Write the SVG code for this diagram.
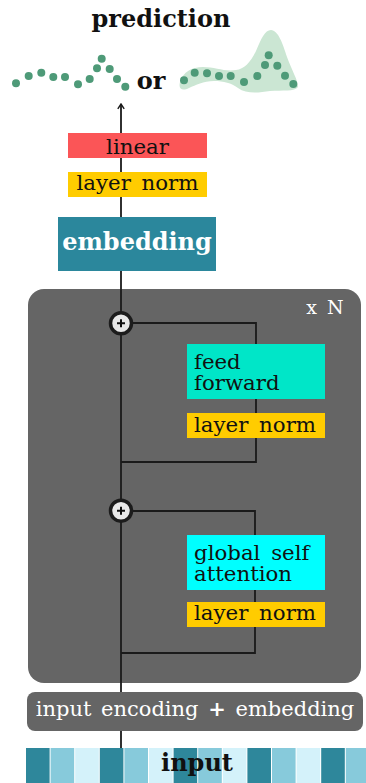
<svg xmlns="http://www.w3.org/2000/svg" width="366" height="783" viewBox="0 0 366 783">
  <defs>
    <style>
      .lbl { font-family: "DejaVu Serif", "Liberation Serif", serif; font-size: 21.3px; fill: #111; word-spacing: 4px; }
      .bold { font-family: "DejaVu Serif", "Liberation Serif", serif; font-weight: bold; font-size: 24px; }
      .wire { fill: none; stroke: #1a1a1a; stroke-width: 1.8; }
      .dot { fill: #4e9a78; }
      .norm { fill: #ffcc00; }
      .plus { fill: #e9e9e9; stroke: #1c1c1c; stroke-width: 3.5; }
      .c0 { fill: #2e879b; }
      .c1 { fill: #87cadb; }
      .c2 { fill: #d4f2fa; }
    </style>
    <marker id="arrow" viewBox="0 0 10 10" refX="9" refY="5" markerWidth="8" markerHeight="8" orient="auto" markerUnits="userSpaceOnUse">
      <path d="M3,1 L9,5 L3,9" fill="none" stroke="#1a1a1a" stroke-width="1.8"/>
    </marker>
  </defs>

  <rect width="366" height="783" fill="#ffffff"/>

  <!-- repeated block background -->
  <g id="block">
    <rect x="28" y="289" width="333" height="394" rx="16" fill="#656565"/>
    <text x="325" y="314" text-anchor="middle" style="font-family: 'DejaVu Serif', serif; font-size: 19px; fill: #ffffff; word-spacing: 4px;">x N</text>
  </g>

  <!-- connectors -->
  <g id="connectors">
    <line class="wire" x1="121" y1="748" x2="121" y2="104" marker-end="url(#arrow)"/>
    <path class="wire" d="M121,323 H256 V462 H121"/>
    <path class="wire" d="M121,511 H255 V653 H121"/>
  </g>

  <!-- prediction output -->
  <g id="prediction">
    <text class="bold" x="161" y="27" text-anchor="middle" fill="#111">prediction</text>
    <text class="bold" x="151" y="89" text-anchor="middle" fill="#111">or</text>
    <g id="points">
      <circle class="dot" cx="16" cy="83.3" r="4"/>
      <circle class="dot" cx="28.7" cy="76" r="4"/>
      <circle class="dot" cx="41.3" cy="72.7" r="4"/>
      <circle class="dot" cx="53.3" cy="77" r="4"/>
      <circle class="dot" cx="65" cy="77" r="4"/>
      <circle class="dot" cx="78" cy="84.3" r="4"/>
      <circle class="dot" cx="89.7" cy="79" r="4"/>
      <circle class="dot" cx="97" cy="68.3" r="4"/>
      <circle class="dot" cx="101.7" cy="58.7" r="4"/>
      <circle class="dot" cx="109.7" cy="69" r="4"/>
      <circle class="dot" cx="117" cy="79" r="4"/>
      <circle class="dot" cx="125.3" cy="86.7" r="4"/>
    </g>
    <g id="distribution">
      <path d="M180,82 C183,72 192,67 203,67 C215,67 225,72 236,70 C244,69 250,63 256,51 C261,39 265,30 271,30 C278,30 283,44 287,57 C292,71 298,80 298,87 C295,92 282,90 270,91 C258,93 246,94 238,88 C231,83 224,81 214,81 C203,81 196,85 189,88 C183,91 178,90 180,82 Z" fill="#cbe6d3"/>
      <circle class="dot" cx="184" cy="80.3" r="4"/>
      <circle class="dot" cx="194.7" cy="72.7" r="4"/>
      <circle class="dot" cx="207" cy="73.3" r="4"/>
      <circle class="dot" cx="219" cy="76" r="4"/>
      <circle class="dot" cx="230.7" cy="76" r="4"/>
      <circle class="dot" cx="244" cy="82" r="4"/>
      <circle class="dot" cx="257.3" cy="76" r="4"/>
      <circle class="dot" cx="265" cy="65" r="4"/>
      <circle class="dot" cx="268.7" cy="55.3" r="4"/>
      <circle class="dot" cx="277.3" cy="65.7" r="4"/>
      <circle class="dot" cx="285" cy="75.7" r="4"/>
      <circle class="dot" cx="293.3" cy="84" r="4"/>
    </g>
  </g>

  <!-- output head -->
  <g id="linear">
    <rect x="68" y="133" width="139" height="25" fill="#fb5557"/>
    <text class="lbl" x="137.5" y="154" text-anchor="middle">linear</text>
  </g>
  <g id="norm-out">
    <rect class="norm" x="68" y="172" width="139" height="25"/>
    <text class="lbl" x="137.5" y="190" text-anchor="middle">layer norm</text>
  </g>
  <g id="embedding-out">
    <rect x="58" y="217" width="158" height="54" fill="#2b879c"/>
    <text class="bold" x="137" y="250" text-anchor="middle" fill="#ffffff">embedding</text>
  </g>

  <!-- feed-forward sublayer -->
  <g id="add-ff">
    <circle class="plus" cx="121" cy="323.3" r="10.5"/>
    <path d="M117,323.3 H125 M121,319.3 V327.3" stroke="#111" stroke-width="2"/>
  </g>
  <g id="feed-forward">
    <rect x="187" y="344" width="138" height="55" fill="#00e6c8"/>
    <text class="lbl" x="194" y="369">feed</text>
    <text class="lbl" x="194" y="390">forward</text>
  </g>
  <g id="norm-ff">
    <rect class="norm" x="187" y="413" width="138" height="25"/>
    <text class="lbl" x="194" y="432">layer norm</text>
  </g>

  <!-- attention sublayer -->
  <g id="add-attn">
    <circle class="plus" cx="121" cy="510.7" r="10.5"/>
    <path d="M117,510.7 H125 M121,506.7 V514.7" stroke="#111" stroke-width="2"/>
  </g>
  <g id="attention">
    <rect x="187" y="535" width="138" height="55" fill="#00ffff"/>
    <text class="lbl" x="194" y="560">global self</text>
    <text class="lbl" x="194" y="581">attention</text>
  </g>
  <g id="norm-attn">
    <rect class="norm" x="187" y="602" width="138" height="25"/>
    <text class="lbl" x="194" y="620">layer norm</text>
  </g>

  <!-- input encoding -->
  <g id="input-encoding">
    <rect x="27" y="692" width="336" height="39" rx="8" fill="#656565"/>
    <text x="195" y="716" text-anchor="middle" style="font-family: 'DejaVu Serif', serif; font-size: 21px; fill: #ffffff; word-spacing: 3px;">input encoding <tspan font-weight="bold">+</tspan> embedding</text>
  </g>

  <!-- input sequence -->
  <g id="input">
    <rect class="c0" x="26" y="748" width="23.6" height="35"/>
    <rect class="c1" x="50.6" y="748" width="23.6" height="35"/>
    <rect class="c2" x="75.2" y="748" width="23.6" height="35"/>
    <rect class="c0" x="99.8" y="748" width="23.6" height="35"/>
    <rect class="c1" x="124.4" y="748" width="23.6" height="35"/>
    <rect class="c2" x="149" y="748" width="23.6" height="35"/>
    <rect class="c0" x="173.6" y="748" width="23.6" height="35"/>
    <rect class="c1" x="198.2" y="748" width="23.6" height="35"/>
    <rect class="c2" x="222.8" y="748" width="23.6" height="35"/>
    <rect class="c0" x="247.4" y="748" width="23.6" height="35"/>
    <rect class="c1" x="272" y="748" width="23.6" height="35"/>
    <rect class="c2" x="296.6" y="748" width="23.6" height="35"/>
    <rect class="c0" x="321.2" y="748" width="23.6" height="35"/>
    <rect class="c1" x="345.8" y="748" width="23.6" height="35"/>
    <text class="bold" x="197" y="771" text-anchor="middle" fill="#111">input</text>
  </g>
</svg>
